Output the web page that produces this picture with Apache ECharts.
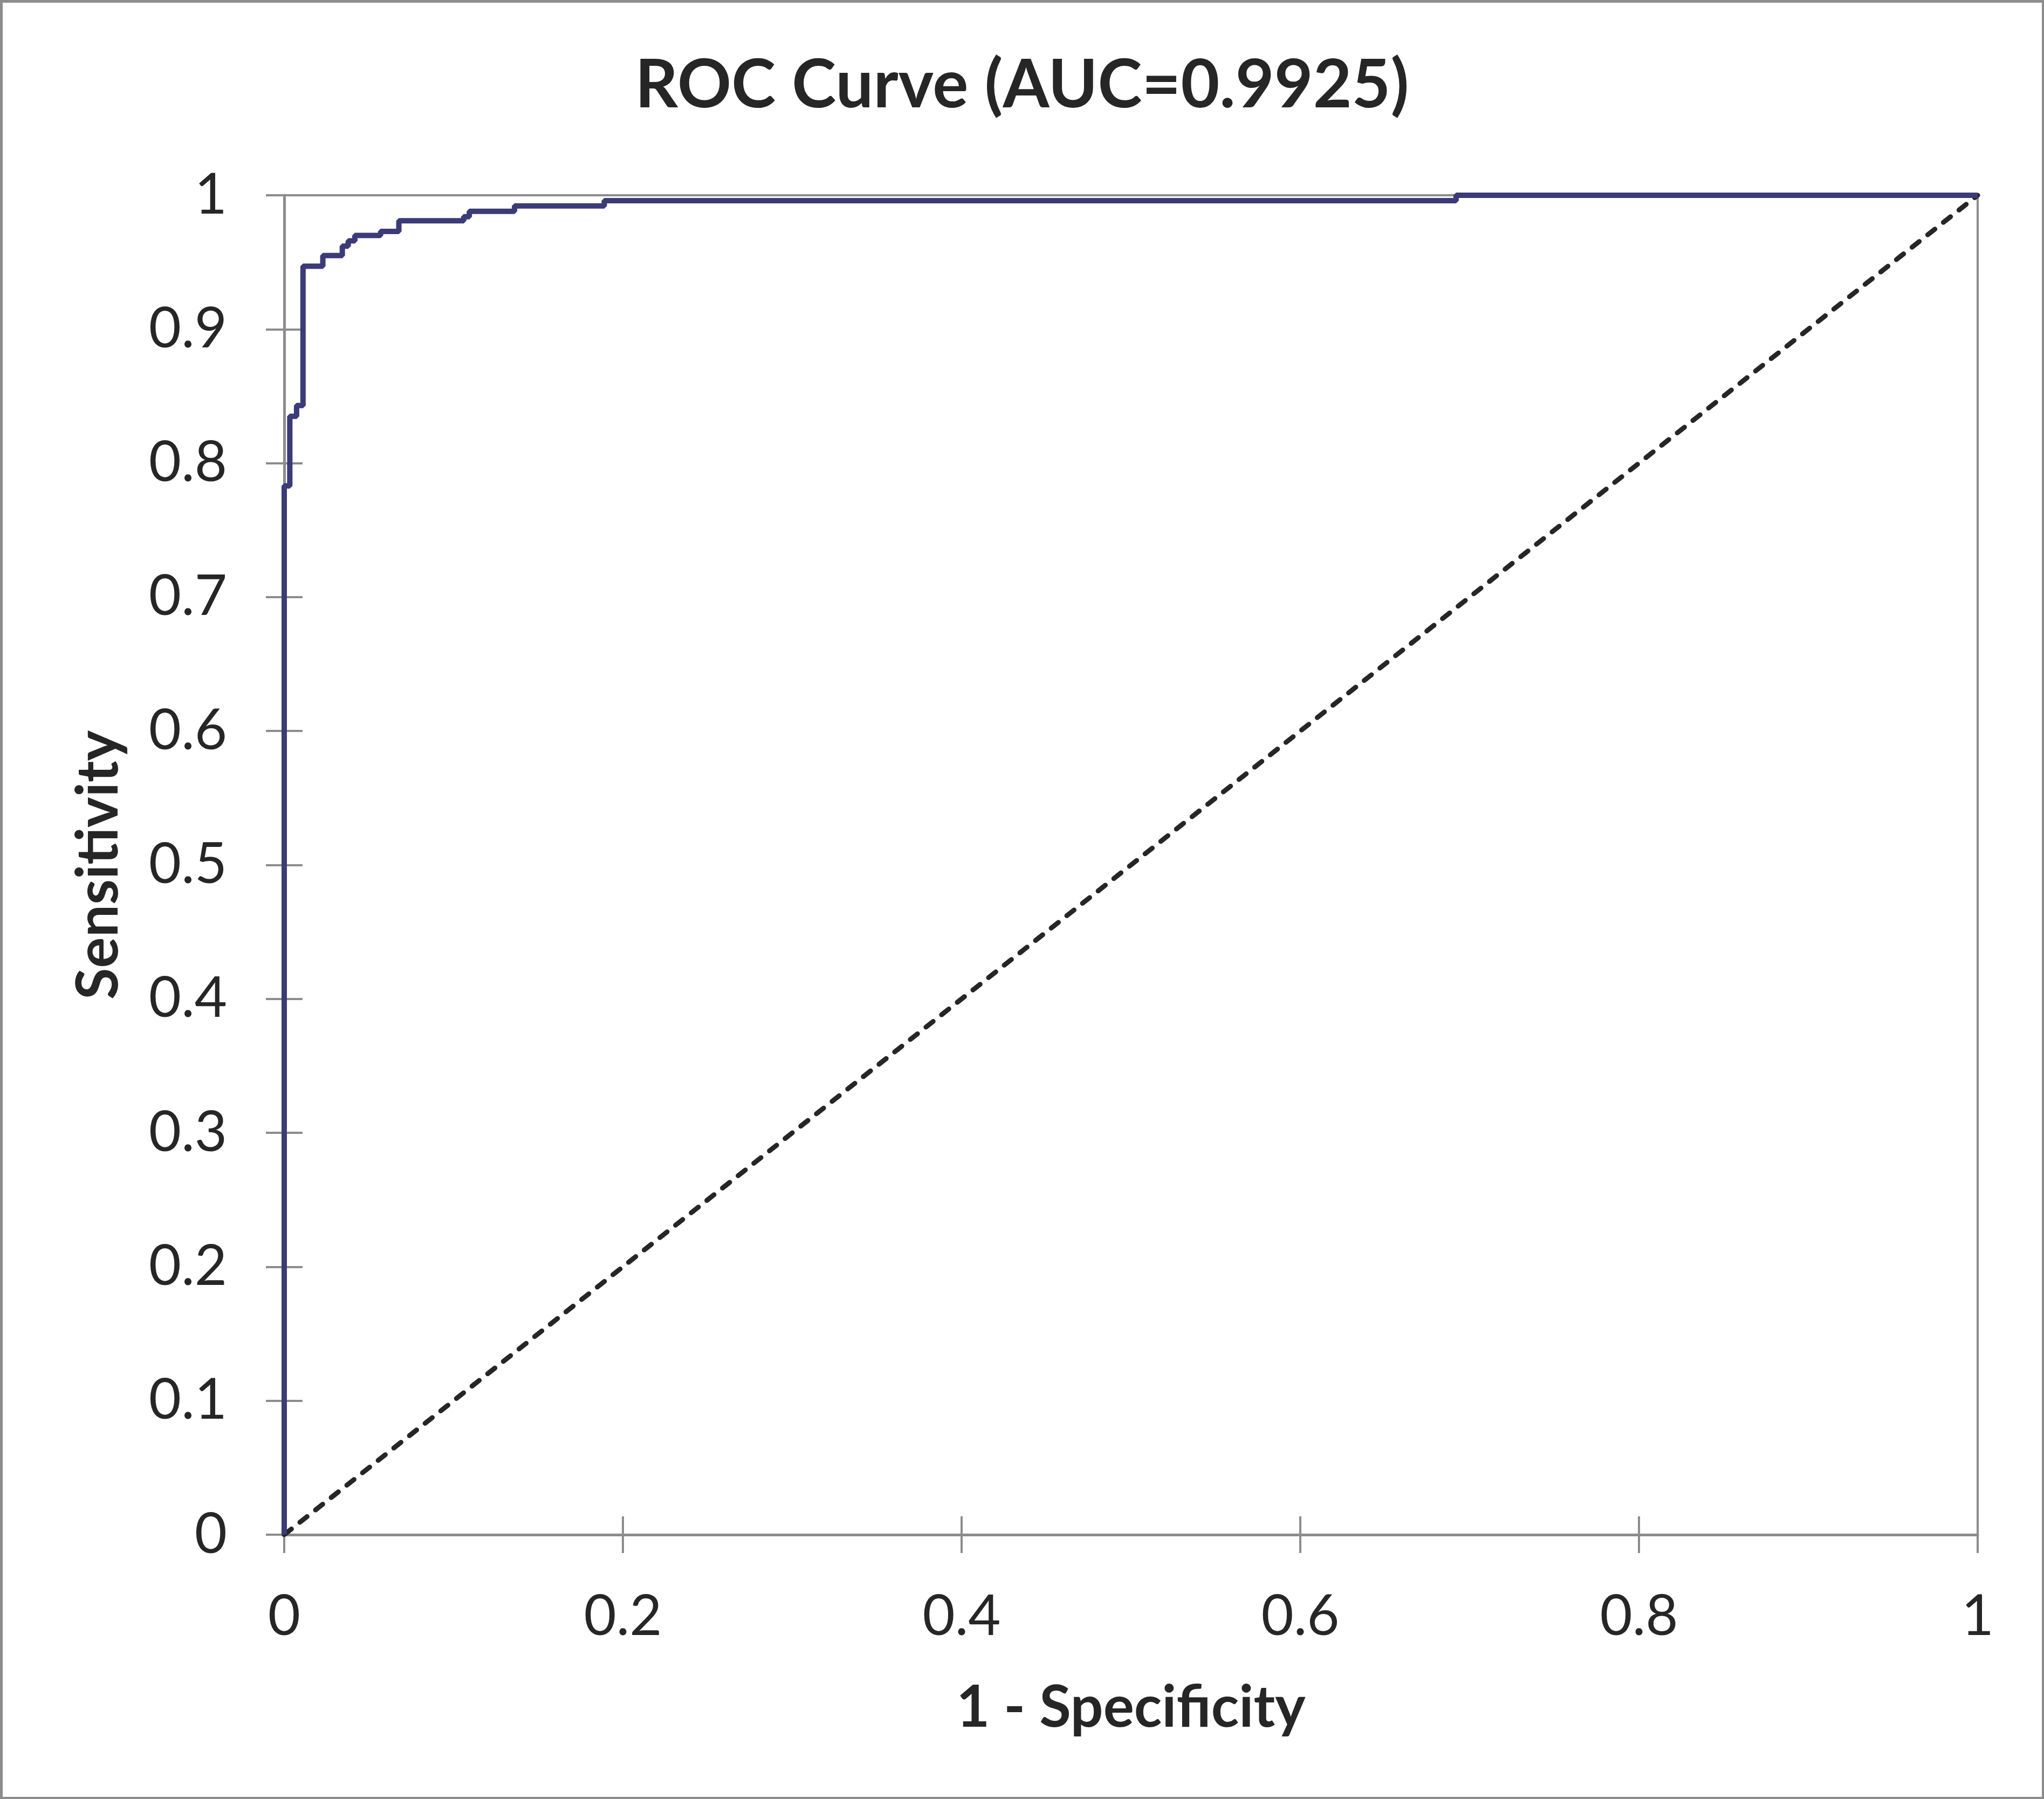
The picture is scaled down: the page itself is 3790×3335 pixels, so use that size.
<!DOCTYPE html>
<html>
<head>
<meta charset="utf-8">
<script src="https://cdn.jsdelivr.net/npm/echarts@6/dist/echarts.min.js"></script>
<style>
html,body{margin:0;padding:0;background:#fff;}
#chart{width:3790px;height:3335px;}
</style>
</head>
<body>
<div id="chart"></div>
<script>
// ROC curve corner points (1 - specificity, sensitivity)
const fpr = [0, 0, 0.0033, 0.0073, 0.0111, 0.0228, 0.0343, 0.0378, 0.0417, 0.0569, 0.0677, 0.106, 0.1093, 0.136, 0.189, 0.692, 1];
const tpr = [0, 0.783, 0.835, 0.843, 0.947, 0.955, 0.962, 0.966, 0.970, 0.973, 0.981, 0.984, 0.988, 0.992, 0.996, 1, 1];
// Reference (chance) line
const refX = [0, 1];
const refY = [0, 1];
const titleText = 'ROC Curve (AUC=0.9925)';
const xName = '1 - Specificity';
const yName = 'Sensitivity';

const FONT = 'Lato';
const TXT = '#262626';
const GRAY = '#8c8c8c';

const chart = echarts.init(document.getElementById('chart'));
const axisCommon = {
  type: 'value', min: 0, max: 1, interval: 0.2,
};
chart.setOption({
  animation: false,
  backgroundColor: '#fff',
  title: {
    text: titleText, left: 'center', top: 92,
    textStyle: {fontFamily: FONT, fontWeight: 'bold', fontSize: 124, color: TXT}
  },
  grid: {left: 527, right: 123, top: 362, bottom: 490, show: true, borderColor: GRAY, borderWidth: 4},
  xAxis: [
    Object.assign({}, axisCommon, {
      position: 'bottom',
      name: xName, nameLocation: 'middle', nameGap: 268,
      nameTextStyle: {fontFamily: FONT, fontWeight: 'bold', fontSize: 107, color: TXT},
      axisLine: {show: true, lineStyle: {color: GRAY, width: 5}},
      axisTick: {show: true, inside: false, length: 34, lineStyle: {color: GRAY, width: 4}},
      axisLabel: {fontFamily: FONT, fontSize: 104, color: TXT, margin: 100,
        formatter: v => (Math.round(v*10)/10).toString()},
      splitLine: {show: false}
    }),
    Object.assign({}, axisCommon, {
      position: 'bottom',
      axisLine: {show: false},
      axisTick: {show: true, inside: true, length: 34, lineStyle: {color: GRAY, width: 4}},
      axisLabel: {show: false},
      splitLine: {show: false}
    })
  ],
  yAxis: [
    Object.assign({}, axisCommon, {
      interval: 0.1,
      position: 'left',
      name: yName, nameLocation: 'middle', nameGap: 290, nameRotate: 90,
      nameTextStyle: {fontFamily: FONT, fontWeight: 'bold', fontSize: 107, color: TXT},
      axisLine: {show: true, lineStyle: {color: GRAY, width: 5}},
      axisTick: {show: true, inside: false, length: 34, lineStyle: {color: GRAY, width: 4}},
      axisLabel: {fontFamily: FONT, fontSize: 104, color: TXT, margin: 106,
        formatter: v => (Math.round(v*10)/10).toString()},
      splitLine: {show: false}
    }),
    Object.assign({}, axisCommon, {
      interval: 0.1,
      position: 'left',
      axisLine: {show: false},
      axisTick: {show: true, inside: true, length: 34, lineStyle: {color: GRAY, width: 4}},
      axisLabel: {show: false},
      splitLine: {show: false}
    })
  ],
  graphic: [{
    type: 'rect', left: 0, top: 0, z: -1,
    shape: {x: 2, y: 2, width: 3786, height: 3331},
    style: {fill: 'none', stroke: GRAY, lineWidth: 5}
  }],
  series: [
    {
      type: 'line', xAxisIndex: 0, yAxisIndex: 0,
      data: refX.map((x, i) => [x, refY[i]]),
      symbol: 'none', clip: true,
      lineStyle: {color: '#262626', width: 9, type: [17, 20], cap: 'round'},
      z: 3
    },
    {
      type: 'line', xAxisIndex: 0, yAxisIndex: 0,
      data: fpr.map((x, i) => [x, tpr[i]]),
      step: 'end', symbol: 'none', clip: true,
      lineStyle: {color: '#3b3b78', width: 10},
      z: 4
    }
  ]
});
</script>
</body>
</html>
